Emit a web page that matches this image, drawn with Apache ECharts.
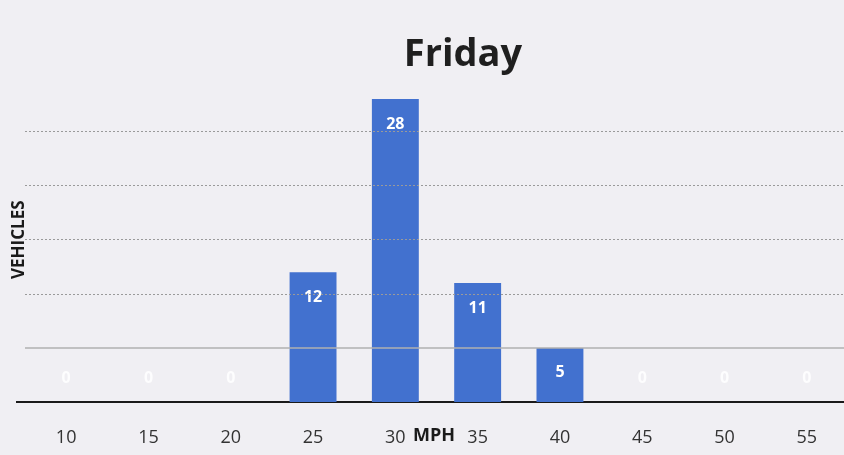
<!DOCTYPE html>
<html><head><meta charset="utf-8">
<script src="https://cdn.jsdelivr.net/npm/echarts@6/dist/echarts.min.js"></script>
<style>html,body{margin:0;padding:0;background:#F0EFF3}#c{width:844px;height:455px}</style>
</head><body><div id="c"></div>
<script>
const categories = ['10','15','20','25','30','35','40','45','50','55'];
const vehicles = [0,0,0,12,28,11,5,0,0,0];
const dottedGrid = [10,15,20,25];
const solidGrid = [5];
const yMax = 30;

const chart = echarts.init(document.getElementById('c'));
const data = vehicles.map(v => v === 0
  ? {value: v, label: {position: 'top', distance: 16, color: 'rgba(255,255,255,0.85)'}}
  : {value: v});
chart.setOption({
  backgroundColor: '#F0EFF3',
  animation: false,
  title: {text: 'Friday', left: 458, top: 31, textAlign: 'center',
    textStyle: {fontFamily: 'Open Sans', fontWeight: 'bold', fontSize: 38, color: '#1f1f1f'}},
  grid: {left: 25, width: 823, top: 77.4, bottom: 53, outerBoundsMode: 'none', containLabel: false},
  xAxis: {type: 'category', data: categories,
    axisLine: {lineStyle: {color: '#1a1a1a', width: 2}},
    axisTick: {show: false},
    axisLabel: {fontFamily: 'Open Sans', fontSize: 18, color: '#333', margin: 27}},
  yAxis: {type: 'value', min: 0, max: yMax, interval: 5,
    axisLabel: {show: false}, splitLine: {show: false}, axisLine: {show: false},
    name: 'VEHICLES', nameLocation: 'middle', nameRotate: 90, nameGap: -3,
    nameTextStyle: {fontFamily: 'Open Sans', fontWeight: 'bold', fontSize: 17, color: '#1a1a1a'}},
  series: [{
    type: 'bar', data: data, barWidth: '57%',
    itemStyle: {color: '#4271CF'},
    label: {show: true, position: 'insideTop', distance: 17, color: '#fff',
      fontFamily: 'Open Sans', fontWeight: 'bold', fontSize: 16},
    markLine: {silent: true, symbol: 'none', label: {show: false},
      data: dottedGrid.map(v => ({yAxis: v, lineStyle: {type: [2, 2], color: '#9a9a9a', width: 1}}))
        .concat(solidGrid.map(v => ({yAxis: v, lineStyle: {type: 'solid', color: '#b0b0b0', width: 1.5}})))},
    z: 3
  }],
  graphic: [{type: 'text', left: 413, top: 427,
    style: {text: 'MPH', font: 'bold 18px "Open Sans"', fill: '#1a1a1a'}},
    {type: 'line', shape: {x1: 16, y1: 402, x2: 26, y2: 402}, style: {stroke: '#1a1a1a', lineWidth: 2}}]
});
</script></body></html>
